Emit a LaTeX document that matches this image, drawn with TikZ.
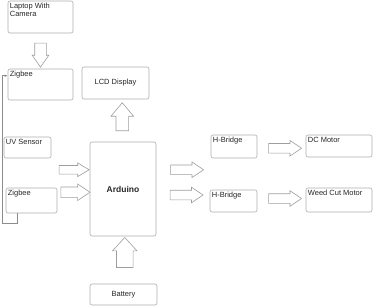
\documentclass[tikz,border=0pt]{standalone}
\usepackage{fontspec}
\setmainfont{Liberation Sans}
\usetikzlibrary{arrows.meta,calc,shapes.arrows}

\begin{document}
\begin{tikzpicture}[
  x=1pt, y=-1pt,
  font=\fontsize{7.5}{8.5}\selectfont,
  box/.style={draw=black!32, fill=white, rounded corners=2pt, line width=0.6pt, inner sep=0pt},
  tl/.style={label={[anchor=north west, inner sep=2pt, align=left, text=black!85]north west:#1}},
  blk/.style={single arrow, draw=black!38, fill=white, line width=0.6pt, inner xsep=0pt},
  feed/.style={-{Latex[length=3pt,width=2.5pt]}, draw=black!45, line width=0.6pt},
]
\useasboundingbox (0,0) rectangle (373,306);

% ---------- left column ----------
\node[box, minimum width=65pt, minimum height=32pt, tl={Laptop With\\Camera}] (lap) at (40.5,17) {};
\node[box, minimum width=65pt, minimum height=31pt, tl=Zigbee] (zb1) at (40.5,84.5) {};
\node[box, minimum width=47pt, minimum height=21pt, tl=UV Sensor] (uv) at (27.5,147.5) {};
\node[box, minimum width=51pt, minimum height=25pt, tl=Zigbee] (zb2) at (31.5,200.5) {};

% ---------- centre column ----------
\node[box, minimum width=67pt, minimum height=32pt, text=black!85] (lcd) at (115.5,83) {LCD Display};
\node[box, minimum width=66pt, minimum height=94pt, font=\fontsize{8.5}{10}\selectfont\bfseries, text=black!85] (ard) at (123,189) {Arduino};
\node[box, minimum width=67pt, minimum height=21pt, text=black!85] (bat) at (123.5,294.5) {Battery};

% ---------- right side ----------
\node[box, minimum width=46pt, minimum height=23pt, tl=H-Bridge] (hb1) at (234,146.5) {};
\node[box, minimum width=66pt, minimum height=22pt, tl=DC Motor] (dcm) at (339,146) {};
\node[box, minimum width=47pt, minimum height=22pt, tl=H-Bridge] (hb2) at (233.5,201) {};
\node[box, minimum width=66pt, minimum height=24pt, tl=Weed Cut Motor] (wcm) at (339,200) {};

% ---------- block arrows ----------
\node[blk, rotate=-90, minimum height=24pt, inner ysep=5.5pt, single arrow head extend=2.5pt, single arrow tip angle=70] (a1) at ($(lap.south)!0.5!(zb1.north)$) {};
\node[blk, rotate=90, minimum height=28pt, inner ysep=6pt, single arrow head extend=5pt, single arrow tip angle=80] (a2) at ($(ard.north)!0.5!(lcd.south)+(3,0)$) {};
\node[blk, minimum height=30pt, inner ysep=4pt, single arrow head extend=2.5pt, single arrow tip angle=62] (a3) at ($(uv.east)!0.5!(ard.west)+(0,1.5)$) {};
\node[blk, minimum height=29pt, inner ysep=5pt, single arrow head extend=3pt, single arrow tip angle=68] (a4) at ($(zb2.east)!0.5!(ard.west)+(-2,-2.5)$) {};
\node[blk, minimum height=33pt, inner ysep=4.5pt, single arrow head extend=3pt, single arrow tip angle=68] (a5) at ($(ard.east)!0.5!(hb1.west)+(0,2)$) {};
\node[blk, minimum height=33pt, inner ysep=4.5pt, single arrow head extend=3pt, single arrow tip angle=68] (a6) at ($(hb1.east)!0.5!(dcm.west)+(0,2)$) {};
\node[blk, minimum height=33pt, inner ysep=4.5pt, single arrow head extend=3pt, single arrow tip angle=68] (a7) at ($(ard.east)!0.5!(hb2.west)$) {};
\node[blk, minimum height=33pt, inner ysep=4.5pt, single arrow head extend=3pt, single arrow tip angle=68] (a8) at ($(hb2.east)!0.5!(wcm.west)+(0,-2)$) {};
\node[blk, rotate=90, minimum height=30pt, inner ysep=8pt, single arrow head extend=4pt, single arrow tip angle=85] (a9) at ($(bat.north)!0.5!(ard.south)+(1.5,-3)$) {};

% feedback from lower Zigbee back to the upper one
\coordinate (loop) at (2,223);
\draw[feed] ([xshift=12pt]zb2.south west) |- (loop) |- ([yshift=-7pt]zb1.north west);
\end{tikzpicture}
\end{document}
